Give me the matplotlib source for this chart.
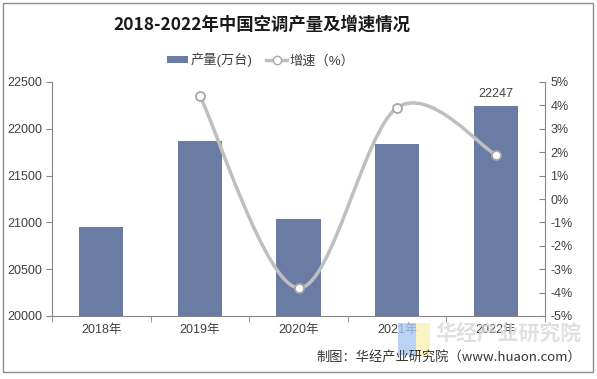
import matplotlib
matplotlib.use("Agg")
import matplotlib.pyplot as plt
from matplotlib.path import Path
from matplotlib.patches import PathPatch, Rectangle
from matplotlib.lines import Line2D
from matplotlib.patches import Patch

plt.rcParams['font.family'] = ['Liberation Sans', 'Noto Sans CJK SC', 'DejaVu Sans']

years = ['2018年', '2019年', '2020年', '2021年', '2022年']
production = [20956, 21866, 21035, 21836, 22247]
growth_years = [1, 2, 3, 4]
growth = [4.4, -3.8, 3.9, 1.9]
left_ticks = [20000, 20500, 21000, 21500, 22000, 22500]
right_ticks = [-5, -4, -3, -2, -1, 0, 1, 2, 3, 4, 5]

bar_color = '#6a7ca3'
line_color = '#bfbfbf'
axis_color = '#868686'
text_color = '#404040'

fig = plt.figure(figsize=(5.97, 3.79), dpi=100)
ax = fig.add_axes([52/597, 1-316/379, (545-52)/597, (316-82)/379])
x = list(range(len(years)))
ax.bar(x, [p - 20000 for p in production], bottom=20000, width=0.45, color=bar_color, zorder=2)
ax.set_xlim(-0.5, 4.5)
ax.set_ylim(20000, 22500)
ax.set_yticks(left_ticks)
ax.set_yticklabels([str(t) for t in left_ticks], fontsize=9, color=text_color)
ax.set_xticks(x)
ax.set_xticklabels(years, fontsize=9, color=text_color)
ax.set_xticks([i + 0.5 for i in range(-1, len(years))], minor=True)
ax.tick_params(axis='x', which='major', length=0, pad=6)
ax.tick_params(axis='x', which='minor', length=4, color=axis_color, direction='out')
ax.tick_params(axis='y', length=4, color=axis_color, direction='out', pad=3)
for s in ['top', 'right']:
    ax.spines[s].set_visible(False)
for s in ['left', 'bottom']:
    ax.spines[s].set_color(axis_color)
    ax.spines[s].set_linewidth(0.8)

ax.text(4, production[4] + 60, str(production[4]), ha='center', va='bottom', fontsize=9, color=text_color)

ax2 = ax.twinx()
ax2.set_ylim(-5, 5)
ax2.set_yticks(right_ticks)
ax2.set_yticklabels([f'{t}%' for t in right_ticks], fontsize=9, color=text_color)
ax2.tick_params(axis='y', length=4, color=axis_color, direction='in', pad=4)
for s in ['top', 'left', 'bottom']:
    ax2.spines[s].set_visible(False)
ax2.spines['right'].set_color(axis_color)
ax2.spines['right'].set_linewidth(0.8)

# smoothed (Catmull-Rom Bezier) line through data points
pts = list(zip(growth_years, growth))
verts = [pts[0]]
codes = [Path.MOVETO]
n = len(pts)
for i in range(n - 1):
    p0 = pts[i - 1] if i > 0 else pts[i]
    p1 = pts[i]
    p2 = pts[i + 1]
    p3 = pts[i + 2] if i + 2 < n else pts[i + 1]
    c1 = (p1[0] + (p2[0] - p0[0]) / 6, p1[1] + (p2[1] - p0[1]) / 6)
    c2 = (p2[0] - (p3[0] - p1[0]) / 6, p2[1] - (p3[1] - p1[1]) / 6)
    verts += [c1, c2, p2]
    codes += [Path.CURVE4] * 3
ax2.add_patch(PathPatch(Path(verts, codes), fill=False, edgecolor=line_color, lw=2.5, zorder=3))
ax2.plot(growth_years, growth, linestyle='none', marker='o', markersize=6.5,
         markerfacecolor='white', markeredgecolor='#a6a6a6', markeredgewidth=1.3, zorder=4)

# title
fig.text(262/597, 1-25/379, '2018-2022年中国空调产量及增速情况', ha='center', va='center',
         fontsize=12.5, fontweight='bold', color='#1a1a1a',
         family=['Noto Sans CJK SC', 'DejaVu Sans'])

# legend
handles = [Patch(facecolor=bar_color, edgecolor='none'),
           Line2D([0], [0], color=line_color, lw=2.5, marker='o', markersize=6,
                  markerfacecolor='white', markeredgecolor='#a6a6a6')]
leg = fig.legend(handles, ['产量(万台)', '增速（%）'], loc='center', bbox_to_anchor=(261/597, 1-60/379),
                 ncol=2, frameon=False, fontsize=9.5, handlelength=1.6, handleheight=0.35,
                 columnspacing=1.0, handletextpad=0.2)
for t in leg.get_texts():
    t.set_color(text_color)

# watermark
fig.patches.append(Rectangle((398/597, 1-355/379), 18/597, 32/379, transform=fig.transFigure,
                             facecolor='#a9c8f2', alpha=0.8, edgecolor='none', zorder=0))
fig.patches.append(Rectangle((416/597, 1-355/379), 14/597, 32/379, transform=fig.transFigure,
                             facecolor='#faf0b4', alpha=0.8, edgecolor='none', zorder=0))
fig.text(508/597, 1-333/379, '华经产业研究院', ha='center', va='center', fontsize=15,
         fontweight='bold', color='#d9d9d9', alpha=0.8,
         family=['Noto Sans CJK SC'], zorder=0)

fig.text(581/597, 1-357/379, '制图：华经产业研究院（www.huaon.com）', ha='right', va='center',
         fontsize=9.5, color='#333333', family=['Noto Sans CJK SC', 'DejaVu Sans'])

# border
fig.patches.append(Rectangle((3/597, 1-372/379), 590/597, 369/379, transform=fig.transFigure,
                             fill=False, edgecolor='#8c8c8c', lw=1))

fig.savefig('out.png', dpi=100)
